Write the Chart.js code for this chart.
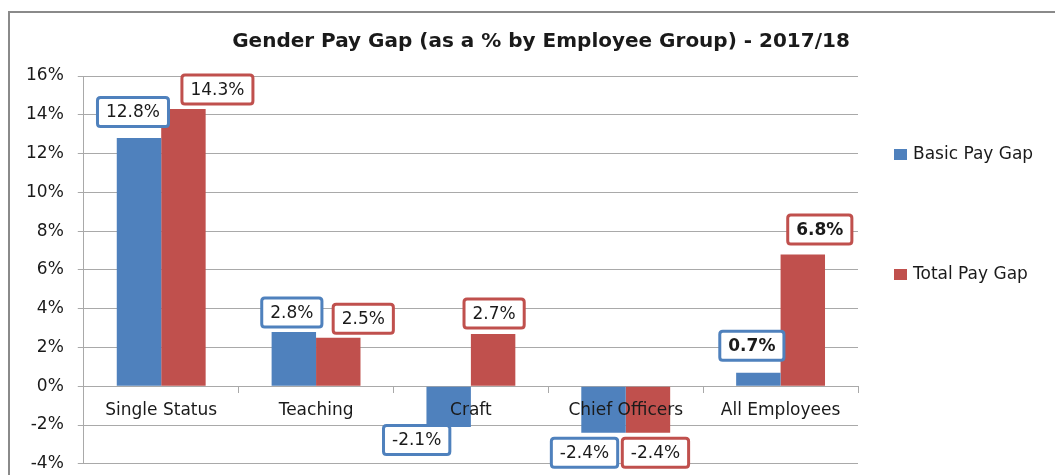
<!DOCTYPE html>
<html>
<head>
<meta charset="utf-8">
<script src="https://cdn.jsdelivr.net/npm/chart.js@4.4.1/dist/chart.umd.min.js"></script>
<style>
  html, body { margin: 0; padding: 0; background: #fff; overflow: hidden; }
  #wrap { position: relative; width: 1055px; height: 475px; overflow: hidden; }
  #frame {
    position: absolute; left: 8px; top: 11px; width: 1100px; height: 520px;
    border: 2px solid #8a8a8a; box-sizing: border-box;
  }
  #chart { position: absolute; left: 0; top: 0; }
</style>
</head>
<body>
<div id="wrap">
  <div id="frame"></div>
  <!-- canvas runs a little past the bottom edge, like the cropped original -->
  <canvas id="chart" width="1055" height="488"></canvas>
</div>
<script>
const categories = ['Single Status', 'Teaching', 'Craft', 'Chief Officers', 'All Employees'];
const basicPayGap = [12.8, 2.8, -2.1, -2.4, 0.7];
const totalPayGap = [14.3, 2.5, 2.7, -2.4, 6.8];
const seriesNames = ['Basic Pay Gap', 'Total Pay Gap'];
const yMin = -4;
const yMax = 16;
const yStep = 2;
const boldCategory = 'All Employees';

const BLUE = '#4f81bd';
const RED = '#c0504d';
const GRID = '#a9a9a9';
const FONT = "'DejaVu Sans', Verdana, sans-serif";

// label box nudges (dx, dy from the bar end), hand placed like the original
const labelNudges = [
  [[-6, -26], [-2, -19.5], [-32, 13], [-19, 20], [-6.5, -27]],
  [[34, -19.5], [25, -19], [1, -20.5], [7.5, 20], [17, -25]],
];

function roundRect(ctx, x, y, w, h, r) {
  ctx.beginPath();
  ctx.moveTo(x + r, y);
  ctx.lineTo(x + w - r, y);
  ctx.quadraticCurveTo(x + w, y, x + w, y + r);
  ctx.lineTo(x + w, y + h - r);
  ctx.quadraticCurveTo(x + w, y + h, x + w - r, y + h);
  ctx.lineTo(x + r, y + h);
  ctx.quadraticCurveTo(x, y + h, x, y + h - r);
  ctx.lineTo(x, y + r);
  ctx.quadraticCurveTo(x, y, x + r, y);
  ctx.closePath();
}

const boxLabels = {
  id: 'boxLabels',
  afterDraw(chart) {
    const ctx = chart.ctx;
    ctx.save();
    ctx.textAlign = 'center';
    ctx.textBaseline = 'middle';
    chart.data.datasets.forEach((ds, di) => {
      const meta = chart.getDatasetMeta(di);
      meta.data.forEach((bar, i) => {
        const bold = chart.data.labels[i] === boldCategory;
        ctx.font = (bold ? 'bold ' : '') + '17px ' + FONT;
        const text = ds.data[i].toFixed(1) + '%';
        const tw = ctx.measureText(text).width;
        const w = tw + 17;
        const h = 29;
        const [dx, dy] = labelNudges[di][i];
        const cx = bar.x + dx;
        const cy = bar.y + dy;
        roundRect(ctx, cx - w / 2, cy - h / 2, w, h, 3);
        ctx.fillStyle = '#fff';
        ctx.fill();
        ctx.lineWidth = 3;
        ctx.strokeStyle = ds.backgroundColor;
        ctx.stroke();
        ctx.fillStyle = '#1a1a1a';
        ctx.fillText(text, cx, cy + 1);
      });
    });
    ctx.restore();
  },
};

const titleAndLegend = {
  id: 'titleAndLegend',
  afterDraw(chart) {
    const ctx = chart.ctx;
    ctx.save();
    ctx.fillStyle = '#1a1a1a';
    ctx.textBaseline = 'middle';
    ctx.textAlign = 'center';
    ctx.font = 'bold 20px ' + FONT;
    ctx.fillText('Gender Pay Gap (as a % by Employee Group) - 2017/18', 541, 42);

    ctx.textAlign = 'left';
    ctx.font = '17px ' + FONT;
    const legendY = [154, 274];
    chart.data.datasets.forEach((ds, di) => {
      ctx.fillStyle = ds.backgroundColor;
      ctx.fillRect(894, legendY[di] - 5, 13, 11);
      ctx.fillStyle = '#1a1a1a';
      ctx.fillText(ds.label, 913, legendY[di] + 1);
    });
    ctx.restore();
  },
};

new Chart(document.getElementById('chart'), {
  type: 'bar',
  data: {
    labels: categories,
    datasets: [
      { label: seriesNames[0], data: basicPayGap, backgroundColor: BLUE },
      { label: seriesNames[1], data: totalPayGap, backgroundColor: RED },
    ],
  },
  options: {
    responsive: false,
    animation: false,
    devicePixelRatio: 1,
    layout: { padding: { left: 12, top: 76, right: 197, bottom: 2 } },
    categoryPercentage: 0.574,
    barPercentage: 1.0,
    plugins: {
      legend: { display: false },
      title: { display: false },
      tooltip: { enabled: false },
    },
    scales: {
      x: {
        position: { y: 0 },
        grid: {
          display: true,
          drawOnChartArea: false,
          drawTicks: true,
          tickLength: 6,
          offset: true,
          color: GRID,
        },
        border: { display: true, color: GRID, width: 1 },
        ticks: {
          font: { family: FONT, size: 17 },
          color: '#1a1a1a',
          padding: 8,
          maxRotation: 0,
          z: 1,
        },
      },
      y: {
        min: yMin,
        max: yMax,
        ticks: {
          stepSize: yStep,
          callback: (v) => v + '%',
          font: { family: FONT, size: 17 },
          color: '#1a1a1a',
          padding: 14,
        },
        grid: { color: GRID, tickLength: 6, lineWidth: 1 },
        border: { display: true, color: GRID },
      },
    },
  },
  plugins: [boxLabels, titleAndLegend],
});
</script>
</body>
</html>
